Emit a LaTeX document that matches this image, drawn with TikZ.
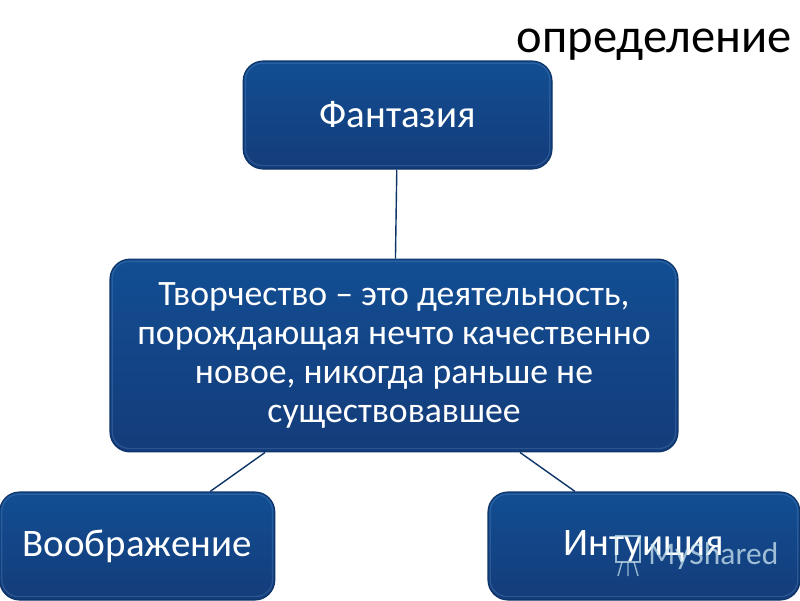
\documentclass[tikz,border=0pt]{standalone}
\usepackage{fontspec}
\setmainfont{Carlito}
\usetikzlibrary{positioning, calc}
\definecolor{boxtop}{HTML}{124E93}
\definecolor{boxbottom}{HTML}{143C7A}
\definecolor{boxedge}{HTML}{0E3468}
\definecolor{boxrim}{HTML}{5F8FC4}
\definecolor{marktint}{HTML}{CFE8F2}
\tikzset{
  block/.style={
    rectangle,
    rounded corners=0.5cm,
    top color=boxtop,
    bottom color=boxbottom,
    draw=boxedge,
    line width=0.8pt,
    align=center,
    text=white,
    inner sep=0pt,
    font=\fontsize{27.7}{30}\selectfont
  },
  rim/.style={
    draw=boxrim,
    opacity=0.3,
    line width=0.9pt,
    rounded corners=0.42cm
  },
  link/.style={
    draw=boxedge,
    line width=1pt
  },
  mark text/.style={
    text=marktint,
    opacity=0.75,
    inner sep=0pt,
    font=\fontsize{22.4}{24}\selectfont
  },
  mark line/.style={
    draw=marktint,
    opacity=0.7,
    line width=1pt
  }
}

\begin{document}
\begin{tikzpicture}
    \useasboundingbox (0,0) rectangle (20,-15);

    \node[block, minimum width=7.72cm, minimum height=2.7cm] (fantasy) at (9.94,-2.875) {Фантазия};
    \node[block, minimum width=14.2cm, minimum height=4.82cm, below=2.225cm of fantasy, xshift=-0.09cm, font=\fontsize{25.4}{27.7}\selectfont] (creation) {Творчество – это деятельность,\\порождающая нечто качественно\\новое, никогда раньше не\\существовавшее};
    \node[block, minimum width=6.88cm, minimum height=2.7cm] (fancy) at (3.43,-13.65) {Воображение};
    \node[block, minimum width=7.8cm, minimum height=2.7cm] (intuition) at (16.1,-13.65) {Интуиция};

    \node[anchor=base, inner sep=0pt, font=\fontsize{34.5}{36}\selectfont] (title) at (16.36,-1.3) {определение};
    \node[mark text, anchor=west] (mark) at (16.2,-13.9) {MyShared};

    \foreach \n in {fantasy, creation, fancy, intuition}
        \draw[rim] ([shift={(0.07,-0.07)}]\n.north west) rectangle ([shift={(-0.07,0.1)}]\n.south east);

    \draw[link] (fantasy) -- (creation);
    \draw[link] ([xshift=-3.225cm]creation.south) -- ([xshift=1.825cm]fancy.north);
    \draw[link] ([xshift=3.15cm]creation.south) -- ([xshift=-1.725cm]intuition.north);

    % little screen in front of the mark
    \draw[mark line] (15.4,-13.4) rectangle (16,-14.05);
    \draw[mark line] (15.55,-14.05) -- (15.45,-14.4) (15.7,-14.05) -- (15.7,-14.4) (15.85,-14.05) -- (15.95,-14.4);
\end{tikzpicture}
\end{document}
